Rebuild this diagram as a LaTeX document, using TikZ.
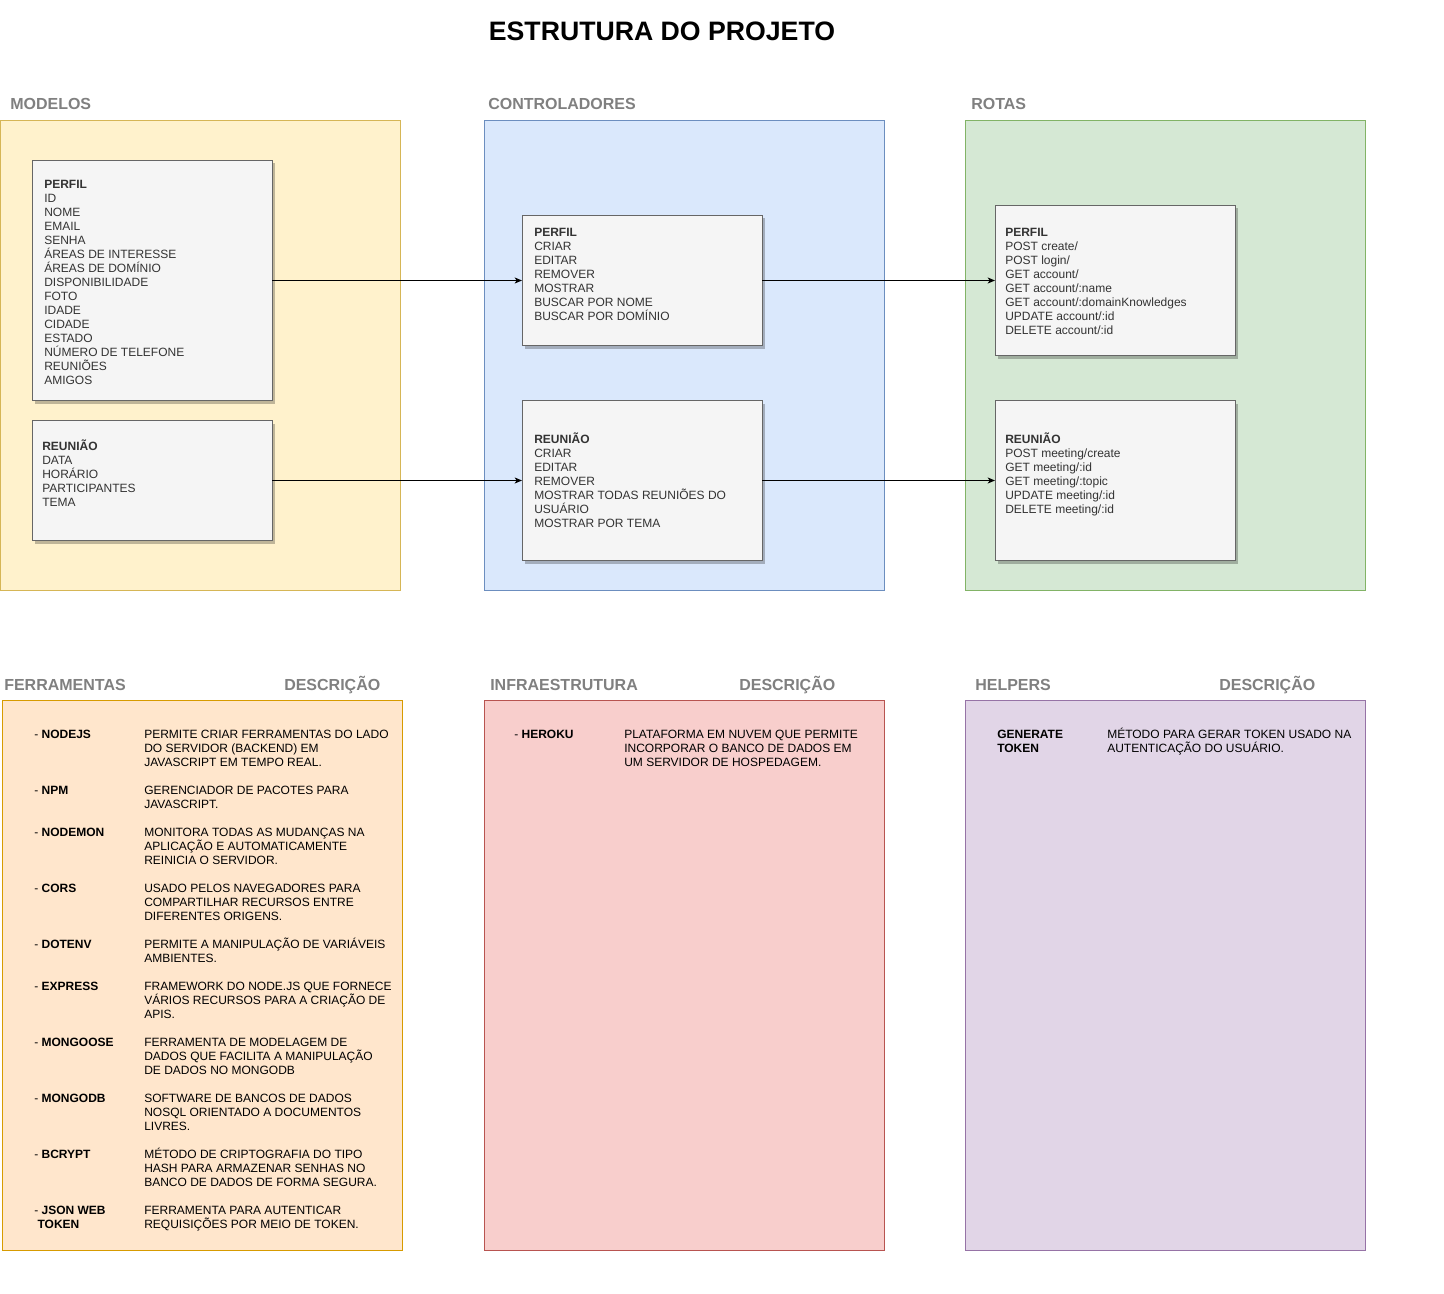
\documentclass[tikz,border=0pt]{standalone}
\usepackage{fontspec}
\setmainfont{Liberation Sans}
\usetikzlibrary{arrows.meta,shadows}
\definecolor{hdrc}{RGB}{128,128,128}
\definecolor{txtc}{RGB}{51,51,51}
\definecolor{yelf}{RGB}{255,242,204}\definecolor{yeld}{RGB}{214,182,86}
\definecolor{bluf}{RGB}{218,232,252}\definecolor{blud}{RGB}{108,142,191}
\definecolor{grnf}{RGB}{213,232,212}\definecolor{grnd}{RGB}{130,179,102}
\definecolor{orgf}{RGB}{255,230,204}\definecolor{orgd}{RGB}{215,155,0}
\definecolor{redf}{RGB}{248,206,204}\definecolor{redd}{RGB}{184,84,80}
\definecolor{purf}{RGB}{225,213,231}\definecolor{purd}{RGB}{150,115,166}
\definecolor{boxf}{RGB}{245,245,245}\definecolor{boxd}{RGB}{102,102,102}
\newcommand{\fs}{\rule{0pt}{9pt}}
\begin{document}
\begin{tikzpicture}[x=0.75pt,y=-0.75pt,
  cont/.style={draw, line width=0.75pt, inner sep=0pt, outer sep=0pt, minimum width=300pt},
  card/.style={draw=boxd, fill=boxf, line width=0.75pt, inner sep=0pt, outer sep=0pt, minimum width=180pt,
    drop shadow={shadow xshift=2.25pt, shadow yshift=-2.25pt, fill=black, opacity=0.25}},
  hdr/.style={anchor=base west, inner sep=0pt, yshift=-0.75pt, text=hdrc, font=\fontsize{12}{14}\selectfont\bfseries},
  txt/.style={anchor=north west, align=left, inner sep=0pt, yshift=-0.75pt, text=txtc, font=\fontsize{9}{10.5}\selectfont},
  ltxt/.style={txt, text=black},
  arr/.style={-{Stealth[length=5.5pt,width=4.5pt,inset=1.5pt]}, line width=0.75pt, black}]
\useasboundingbox (0,0) rectangle (1444,1294);
\fill[white] (0,0) rectangle (1444,1294);

\node[anchor=center, inner sep=0pt, font=\fontsize{20}{24}\selectfont\bfseries] (title) at (662,31) {ESTRUTURA DO PROJETO};

% section headers
\node[hdr] (hmod) at (10,109) {MODELOS};
\node[hdr] (hctl) at (488,109) {CONTROLADORES};
\node[hdr] (hrot) at (971,109) {ROTAS};
\node[hdr] (hfer) at (4,689) {FERRAMENTAS};
\node[hdr] (hdes1) at (284,689) {DESCRIÇÃO};
\node[hdr] (hinf) at (490,689) {INFRAESTRUTURA};
\node[hdr] (hdes2) at (739,689) {DESCRIÇÃO};
\node[hdr] (hhel) at (975,689) {HELPERS};
\node[hdr] (hdes3) at (1219,689) {DESCRIÇÃO};

% containers
\node[cont, fill=yelf, draw=yeld, minimum height=352.5pt] (modelos) at (200,355.5) {};
\node[cont, fill=bluf, draw=blud, minimum height=352.5pt] (controladores) at (684,355.5) {};
\node[cont, fill=grnf, draw=grnd, minimum height=352.5pt] (rotas) at (1165,355.5) {};
\node[cont, fill=orgf, draw=orgd, minimum height=412.5pt] (ferramentas) at (202,975.5) {};
\node[cont, fill=redf, draw=redd, minimum height=412.5pt] (infra) at (684,975.5) {};
\node[cont, fill=purf, draw=purd, minimum height=412.5pt] (helpers) at (1165,975.5) {};

% cards
\node[card, minimum height=180pt] (mperfil) at (152,280.5) {};
\node[card, minimum height=90pt] (mreuniao) at (152,480.5) {};
\node[card, minimum height=97.5pt] (cperfil) at (642,280.5) {};
\node[card, minimum height=120pt] (creuniao) at (642,480.5) {};
\node[card, minimum height=112.5pt] (rperfil) at (1115,280.5) {};
\node[card, minimum height=120pt] (rreuniao) at (1115,480.5) {};

\node[txt] (tmperfil) at (44,175.3) {\fs\textbf{PERFIL}\\ID\\NOME\\EMAIL\\SENHA\\ÁREAS DE INTERESSE\\ÁREAS DE DOMÍNIO\\DISPONIBILIDADE\\FOTO\\IDADE\\CIDADE\\ESTADO\\NÚMERO DE TELEFONE\\REUNIÕES\\AMIGOS};
\node[txt] (tmreuniao) at (42,437.3) {\fs\textbf{REUNIÃO}\\DATA\\HORÁRIO\\PARTICIPANTES\\TEMA};
\node[txt] (tcperfil) at (534,223.3) {\fs\textbf{PERFIL}\\CRIAR\\EDITAR\\REMOVER\\MOSTRAR\\BUSCAR POR NOME\\BUSCAR POR DOMÍNIO};
\node[txt] (tcreuniao) at (534,430.3) {\fs\textbf{REUNIÃO}\\CRIAR\\EDITAR\\REMOVER\\MOSTRAR TODAS REUNIÕES DO\\USUÁRIO\\MOSTRAR POR TEMA};
\node[txt] (trperfil) at (1005,223.3) {\fs\textbf{PERFIL}\\POST create/\\POST login/\\GET account/\\GET account/:name\\GET account/:domainKnowledges\\UPDATE account/:id\\DELETE account/:id};
\node[txt] (trreuniao) at (1005,430.3) {\fs\textbf{REUNIÃO}\\POST meeting/create\\GET meeting/:id\\GET meeting/:topic\\UPDATE meeting/:id\\DELETE meeting/:id};

% connectors
\draw[arr] (mperfil.east) -- (cperfil.west);
\draw[arr] (mreuniao.east) -- (creuniao.west);
\draw[arr] (cperfil.east) -- (rperfil.west);
\draw[arr] (creuniao.east) -- (rreuniao.west);

% tools
\node[ltxt] (n1) at (34,725.3) {\fs- \textbf{NODEJS}};
\node[ltxt] (d1) at (144,725.3) {\fs PERMITE CRIAR FERRAMENTAS DO LADO\\DO SERVIDOR (BACKEND) EM\\JAVASCRIPT EM TEMPO REAL.};
\node[ltxt] (n2) at (34,781.3) {\fs- \textbf{NPM}};
\node[ltxt] (d2) at (144,781.3) {\fs GERENCIADOR DE PACOTES PARA\\JAVASCRIPT.};
\node[ltxt] (n3) at (34,823.3) {\fs- \textbf{NODEMON}};
\node[ltxt] (d3) at (144,823.3) {\fs MONITORA TODAS AS MUDANÇAS NA\\APLICAÇÃO E AUTOMATICAMENTE\\REINICIA O SERVIDOR.};
\node[ltxt] (n4) at (34,879.3) {\fs- \textbf{CORS}};
\node[ltxt] (d4) at (144,879.3) {\fs USADO PELOS NAVEGADORES PARA\\COMPARTILHAR RECURSOS ENTRE\\DIFERENTES ORIGENS.};
\node[ltxt] (n5) at (34,935.3) {\fs- \textbf{DOTENV}};
\node[ltxt] (d5) at (144,935.3) {\fs PERMITE A MANIPULAÇÃO DE VARIÁVEIS\\AMBIENTES.};
\node[ltxt] (n6) at (34,977.3) {\fs- \textbf{EXPRESS}};
\node[ltxt] (d6) at (144,977.3) {\fs FRAMEWORK DO NODE.JS QUE FORNECE\\VÁRIOS RECURSOS PARA A CRIAÇÃO DE\\APIS.};
\node[ltxt] (n7) at (34,1033.3) {\fs- \textbf{MONGOOSE}};
\node[ltxt] (d7) at (144,1033.3) {\fs FERRAMENTA DE MODELAGEM DE\\DADOS QUE FACILITA A MANIPULAÇÃO\\DE DADOS NO MONGODB};
\node[ltxt] (n8) at (34,1089.3) {\fs- \textbf{MONGODB}};
\node[ltxt] (d8) at (144,1089.3) {\fs SOFTWARE DE BANCOS DE DADOS\\NOSQL ORIENTADO A DOCUMENTOS\\LIVRES.};
\node[ltxt] (n9) at (34,1145.3) {\fs- \textbf{BCRYPT}};
\node[ltxt] (d9) at (144,1145.3) {\fs MÉTODO DE CRIPTOGRAFIA DO TIPO\\HASH PARA ARMAZENAR SENHAS NO\\BANCO DE DADOS DE FORMA SEGURA.};
\node[ltxt] (n10) at (34,1201.3) {\fs- \textbf{JSON WEB}\\\hspace*{2.5pt}\textbf{TOKEN}};
\node[ltxt] (d10) at (144,1201.3) {\fs FERRAMENTA PARA AUTENTICAR\\REQUISIÇÕES POR MEIO DE TOKEN.};

% infra
\node[ltxt] (nh) at (514,725.3) {\fs- \textbf{HEROKU}};
\node[ltxt] (dh) at (624,725.3) {\fs PLATAFORMA EM NUVEM QUE PERMITE\\INCORPORAR O BANCO DE DADOS EM\\UM SERVIDOR DE HOSPEDAGEM.};

% helpers
\node[ltxt, font=\fontsize{9}{10.5}\selectfont\bfseries] (ng) at (997,725.3) {\fs GENERATE\\TOKEN};
\node[ltxt] (dg) at (1107,725.3) {\fs MÉTODO PARA GERAR TOKEN USADO NA\\AUTENTICAÇÃO DO USUÁRIO.};
\end{tikzpicture}
\end{document}
